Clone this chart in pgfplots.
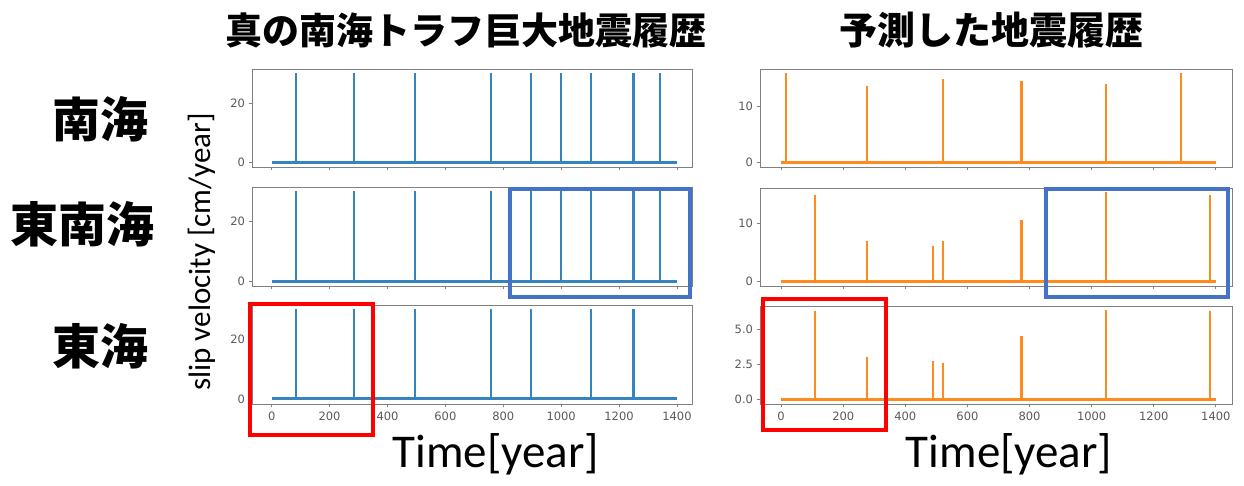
\documentclass[border=0pt]{standalone}
\usepackage{pgfplots}
\pgfplotsset{compat=1.18}
\usepackage{fontspec}
\newfontfamily\cjk{Noto Sans CJK JP}
\newfontfamily\tickfont{DejaVu Sans}
\newfontfamily\calib{Carlito}
\definecolor{mblue}{HTML}{3584C0}
\definecolor{morange}{HTML}{FF8A1E}
\definecolor{rblue}{HTML}{4472C4}
\pgfplotsset{
  sub/.style={
    scale only axis, anchor=south west,
    xmin=-68, xmax=1452,
    xtick={0,200,...,1400},
    tick align=outside, tick pos=left,
    axis line style={black!50, line width=0.8pt},
    every tick/.style={black!50, line width=0.8pt},
    major tick length=3.5pt,
    /pgf/number format/assume math mode=true,
    /pgf/number format/set thousands separator={},
    ticklabel style={font=\tickfont\fontsize{11.5}{12}\selectfont, text=black!65},
    xticklabel style={yshift=-1pt},
    clip=false,
  },
  nolab/.style={xticklabels={}},
  bl/.style={mblue, line width=2.3pt, mark=none},
  or/.style={morange, line width=2.2pt, mark=none},
}
\begin{document}
\begin{tikzpicture}[x=1pt,y=1pt]
\useasboundingbox (0,0) rectangle (1244,486);
% ---- left column (true history) ----
\begin{axis}[sub, nolab, at={(252pt,319pt)}, width=440pt, height=98pt, ymin=-1.5, ymax=31.5, ytick={0,20}]
\addplot[bl] coordinates {(0,0)(1400,0)};
\addplot[bl, ycomb] coordinates {(83,30)(285,30)(495,30)(758,30)(895,30)(1000,30)(1104,30)(1250,30)(1342,30)};
\end{axis}
\begin{axis}[sub, nolab, at={(252pt,200pt)}, width=440pt, height=99pt, ymin=-1.5, ymax=31.5, ytick={0,20}]
\addplot[bl] coordinates {(0,0)(1400,0)};
\addplot[bl, ycomb] coordinates {(83,30)(285,30)(495,30)(758,30)(895,30)(1000,30)(1104,30)(1250,30)(1342,30)};
\end{axis}
\begin{axis}[sub, at={(252pt,82pt)}, width=440pt, height=99pt, ymin=-1.5, ymax=31.5, ytick={0,20}]
\addplot[bl] coordinates {(0,0.3)(1400,0.3)};
\addplot[bl, ycomb] coordinates {(83,30)(285,30)(495,30)(758,30)(895,30)(1104,30)(1250,30)};
\end{axis}
% ---- right column (predicted) ----
\begin{axis}[sub, nolab, at={(760pt,319pt)}, width=472pt, height=98pt, ymin=-0.8, ymax=16.7, ytick={0,10}]
\addplot[or] coordinates {(0,0)(1400,0)};
\addplot[or, ycomb] coordinates {(16,15.9)(277,13.7)(520,14.9)(774,14.6)(1046,14.0)(1288,15.9)};
\end{axis}
\begin{axis}[sub, nolab, at={(760pt,200pt)}, width=472pt, height=98pt, ymin=-0.76, ymax=15.96, ytick={0,10}]
\addplot[or] coordinates {(0,0)(1400,0)};
\addplot[or, ycomb] coordinates {(108,14.8)(277,7.0)(490,6.0)(520,6.9)(774,10.5)(1046,15.2)(1382,14.8)};
\end{axis}
\begin{axis}[sub, at={(760pt,82pt)}, width=472pt, height=98pt, ymin=-0.32, ymax=6.69, ytick={0,2.5,5},
  yticklabel style={/pgf/number format/.cd, fixed, fixed zerofill, precision=1}]
\addplot[or] coordinates {(0,0)(1400,0)};
\addplot[or, ycomb] coordinates {(108,6.32)(277,3.02)(490,2.78)(520,2.59)(774,4.55)(1046,6.37)(1382,6.32)};
\end{axis}
% ---- highlight boxes ----
\draw[rblue, line width=3.5pt] (510,189) rectangle (690,297);
\draw[rblue, line width=3.5pt] (1046,189) rectangle (1228,297);
\draw[red, line width=3.5pt] (250,51) rectangle (373,182);
\draw[red, line width=3.5pt] (763,56) rectangle (886,187);
% ---- texts ----
\node[font=\cjk\bfseries\fontsize{37}{40}\selectfont, inner sep=0] at (466,456) {真の南海トラフ巨大地震履歴};
\node[font=\cjk\bfseries\fontsize{38}{40}\selectfont, inner sep=0] at (991,456) {予測した地震履歴};
\node[font=\cjk\bfseries\fontsize{48}{50}\selectfont, inner sep=0] at (100,367) {南海};
\node[font=\cjk\bfseries\fontsize{48}{50}\selectfont, inner sep=0] at (82,262) {東南海};
\node[font=\cjk\bfseries\fontsize{48}{50}\selectfont, inner sep=0] at (100,140) {東海};
\node[font=\calib\fontsize{31}{33}\selectfont, rotate=90, inner sep=0] at (202,234) {slip velocity [cm/year]};
\node[font=\calib\fontsize{47}{50}\selectfont, inner sep=0, anchor=base] at (496,18) {Time[year]};
\node[font=\calib\fontsize{47}{50}\selectfont, inner sep=0, anchor=base] at (1009,18) {Time[year]};
\end{tikzpicture}
\end{document}
